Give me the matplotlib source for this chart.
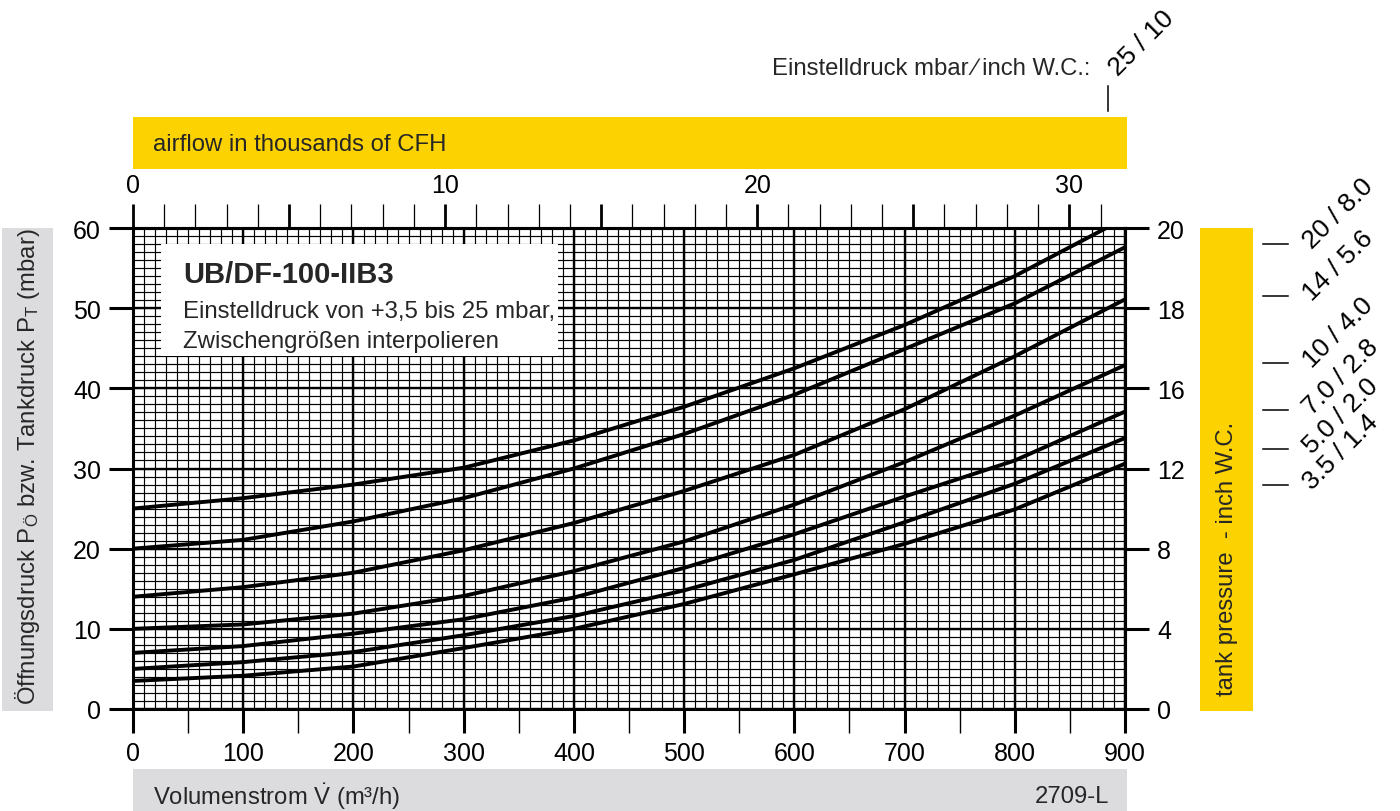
import numpy as np
import matplotlib
matplotlib.use('Agg')
import matplotlib.pyplot as plt
from matplotlib.patches import Rectangle
from matplotlib.lines import Line2D
from matplotlib.transforms import blended_transform_factory

plt.rcParams['font.family'] = ['Liberation Sans', 'DejaVu Sans']
plt.rcParams['mathtext.fontset'] = 'custom'
plt.rcParams['mathtext.rm'] = 'Liberation Sans'
plt.rcParams['mathtext.it'] = 'Liberation Sans'
plt.rcParams['mathtext.bf'] = 'Liberation Sans:bold'

# ---------------- data ----------------
flow = [0, 100, 200, 300, 400, 500, 600, 700, 800, 900]          # m3/h
flow_25 = [0, 100, 200, 300, 400, 500, 600, 700, 800, 883]
p_25 = [25.0, 26.3, 28.0, 30.1, 33.5, 37.7, 42.5, 47.9, 54.0, 60.0]
p_20 = [20.0, 21.1, 23.4, 26.3, 30.0, 34.3, 39.2, 44.9, 50.6, 57.6]
p_14 = [14.0, 15.2, 17.0, 19.8, 23.2, 27.2, 31.7, 37.4, 44.0, 51.1]
p_10 = [10.0, 10.55, 11.9, 14.1, 17.2, 20.9, 25.5, 30.8, 36.6, 42.9]
p_7 = [7.0, 7.85, 9.4, 11.2, 13.9, 17.6, 21.8, 26.5, 31.0, 37.1]
p_5 = [5.0, 5.85, 7.1, 9.2, 11.6, 14.8, 18.6, 23.3, 28.1, 33.8]
p_35 = [3.5, 4.15, 5.3, 7.6, 10.0, 13.1, 16.8, 20.6, 24.9, 30.6]

top_setting = '25 / 10'
settings = ['20 / 8.0', '14 / 5.6', '10 / 4.0', '7.0 / 2.8', '5.0 / 2.0', '3.5 / 1.4']
setting_marks = [58.0, 51.5, 43.2, 37.3, 32.4, 27.9]   # mbar level of label marks

bottom_ticks = list(range(0, 901, 100))
left_ticks = [0, 10, 20, 30, 40, 50, 60]
right_labels = ['0', '4', '8', '12', '16', '18', '20']
top_major = [0, 5, 10, 15, 20, 25, 30]
top_labels = ['0', '', '10', '', '20', '', '30']
top_minor = list(range(0, 32))
M3H_TO_KCFH = 35.3147 / 1000.0

YELLOW = '#FCD200'
GRAY = '#DCDCDE'
TXT = '#262626'
BAND_FS = 17.2

W, H = 1400, 812
def fx(px): return px / W
def fy(py): return 1 - py / H

fig = plt.figure(figsize=(14, 8.12), dpi=100)
ax = fig.add_axes([fx(133), fy(710), (1125 - 133) / W, (710 - 229) / H])
ax.set_xlim(0, 900)
ax.set_ylim(0, 60)

# grid (graph paper)
ax.vlines(np.arange(0, 901, 10), 0, 60, colors='black', lw=0.85, zorder=1)
ax.hlines(np.arange(0, 61, 1), 0, 900, colors='black', lw=0.85, zorder=1)
ax.vlines(np.arange(0, 901, 100), 0, 60, colors='black', lw=1.7, zorder=1.5)
ax.hlines(np.arange(0, 61, 10), 0, 900, colors='black', lw=1.7, zorder=1.5)

# info box
ax.add_patch(Rectangle((25, 44), 361, 14, facecolor='white', edgecolor='none', zorder=3))
ax.text(45.5, 54.3, 'UB/DF-100-IIB3', fontsize=21, fontweight='bold', color=TXT,
        va='center', ha='left', zorder=4)
ax.text(45.5, 49.6, 'Einstelldruck von +3,5 bis 25 mbar,', fontsize=17.3, color=TXT,
        va='center', ha='left', zorder=4)
ax.text(45.5, 45.9, 'Zwischengrößen interpolieren', fontsize=17.3, color=TXT,
        va='center', ha='left', zorder=4)

# curves
for xs, ys in [(flow_25, p_25), (flow, p_20), (flow, p_14), (flow, p_10),
               (flow, p_7), (flow, p_5), (flow, p_35)]:
    ax.plot(xs, ys, color='black', lw=2.8, solid_capstyle='butt', zorder=5, clip_on=True)

for s in ax.spines.values():
    s.set_linewidth(2.2)
    s.set_color('black')

# bottom / left ticks
ax.set_xticks(bottom_ticks)
ax.set_xticks(list(range(50, 900, 100)), minor=True)
ax.set_yticks(left_ticks)
ax.tick_params(axis='x', which='major', length=17, width=2.2, pad=6, labelsize=18, direction='out')
ax.tick_params(axis='x', which='minor', length=17, width=1.0, direction='out')
ax.tick_params(axis='y', which='major', length=17, width=2.2, pad=6, labelsize=18, direction='out')
ax.tick_params(axis='y', which='minor', length=0)

# right axis (inch W.C. labels)
rax = ax.secondary_yaxis('right')
rax.set_yticks(left_ticks, labels=right_labels)
rax.tick_params(length=17, width=2.2, pad=6, labelsize=18, direction='out')
rax.spines['right'].set_linewidth(2.2)

# top axis (thousand CFH)
tax = ax.secondary_xaxis('top', functions=(lambda v: v * M3H_TO_KCFH, lambda c: c / M3H_TO_KCFH))
tax.set_xticks(top_major, labels=top_labels)
tax.set_xticks(top_minor, minor=True)
tax.tick_params(which='major', length=17, width=2.0, pad=5, labelsize=18, direction='out')
tax.tick_params(which='minor', length=17, width=0.9, direction='out')
tax.spines['top'].set_linewidth(2.2)

# bands
def band(x0, y0, x1, y1, color):
    fig.patches.append(Rectangle((fx(x0), fy(y1)), fx(x1) - fx(x0), fy(y0) - fy(y1),
                                 transform=fig.transFigure, facecolor=color,
                                 edgecolor='none', zorder=0))

band(133, 118, 1127, 170, YELLOW)
fig.text(fx(153), fy(145), 'airflow in thousands of CFH', fontsize=BAND_FS, color=TXT,
         ha='left', va='center')

band(2, 229, 53, 712, GRAY)
fig.text(fx(27.5), fy(467), 'Öffnungsdruck P$_{\\mathregular{Ö}}$ bzw. Tankdruck P$_{\\mathregular{T}}$ (mbar)',
         fontsize=BAND_FS, color=TXT, rotation=90, ha='center', va='center')

band(1200, 229, 1253, 712, YELLOW)
fig.text(fx(1226.5), fy(696), 'tank pressure  - inch W.C.', fontsize=BAND_FS, color=TXT,
         rotation=90, ha='center', va='bottom')

band(133, 770, 1127, 812, GRAY)
fig.text(fx(153), fy(797), 'Volumenstrom $\\dot{V}$ (m³/h)', fontsize=BAND_FS, color=TXT,
         ha='left', va='center')
fig.text(fx(1109), fy(797), '2709-L', fontsize=BAND_FS, color=TXT, ha='right', va='center')

# top setting label
fig.text(fx(1090), fy(69), 'Einstelldruck mbar\u2009\u2215\u2009inch W.C.:', fontsize=BAND_FS, color=TXT,
         ha='right', va='center')
fig.add_artist(Line2D([fx(1108), fx(1108)], [fy(87), fy(112)], color='black', lw=1.1,
                      transform=fig.transFigure))
fig.text(fx(1113), fy(72), top_setting, fontsize=19, color='black', rotation=45,
         rotation_mode='anchor', ha='left', va='center')

# right setting labels
bt = blended_transform_factory(fig.transFigure, ax.transData)
for lab, yv in zip(settings, setting_marks):
    fig.add_artist(Line2D([fx(1263), fx(1288)], [yv, yv], color='black', lw=1.1, transform=bt))
    fig.text(fx(1307), yv, lab, fontsize=19, color='black', rotation=45,
             rotation_mode='anchor', ha='left', va='center', transform=bt)

fig.savefig('out.png', dpi=100)
